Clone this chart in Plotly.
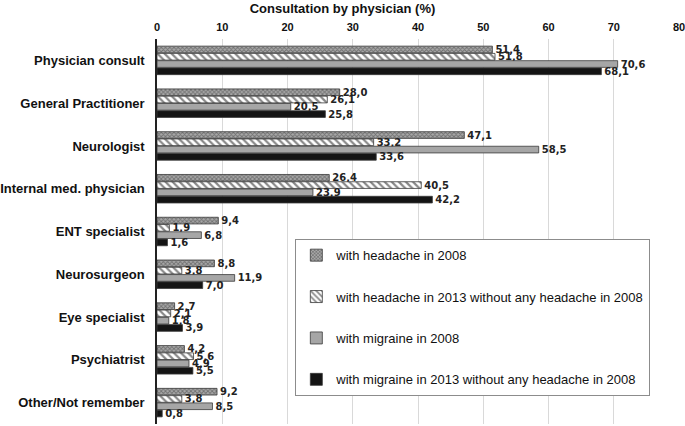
import plotly.graph_objects as go

categories = ["Physician consult", "General Practitioner", "Neurologist",
              "Internal med. physician", "ENT specialist", "Neurosurgeon",
              "Eye specialist", "Psychiatrist", "Other/Not remember"]
series_names = ["with headache in 2008",
                "with headache in 2013 without any headache in 2008",
                "with migraine in 2008",
                "with migraine in 2013 without any headache in 2008"]
headache_2008 = [51.4, 28.0, 47.1, 26.4, 9.4, 8.8, 2.7, 4.2, 9.2]
headache_2013 = [51.8, 26.1, 33.2, 40.5, 1.9, 3.8, 2.1, 5.6, 3.8]
migraine_2008 = [70.6, 20.5, 58.5, 23.9, 6.8, 11.9, 1.8, 4.9, 8.5]
migraine_2013 = [68.1, 25.8, 33.6, 42.2, 1.6, 7.0, 3.9, 5.5, 0.8]
x_ticks = [0, 10, 20, 30, 40, 50, 60, 70, 80]

series_values = [headache_2008, headache_2013, migraine_2008, migraine_2013]
styles = [
    dict(color="#a8a8a8", pattern=dict(shape="x", size=3, solidity=0.5, fgcolor="#3a3a3a", bgcolor="#a8a8a8")),
    dict(color="#ffffff", pattern=dict(shape="\\", size=5, solidity=0.45, fgcolor="#111111", bgcolor="#ffffff")),
    dict(color="#a6a6a6"),
    dict(color="#141414"),
]

fig = go.Figure()
for i, (name, vals, st) in enumerate(zip(series_names, series_values, styles)):
    marker = dict(line=dict(color="#3a3a3a", width=0.8), **st)
    fig.add_trace(go.Bar(
        y=categories, x=vals, orientation="h", name=name,
        legendgroup=f"g{i}",
        marker=marker,
        text=[f"{v:.1f}".replace(".", ",") for v in vals],
        textposition="outside", constraintext="none", cliponaxis=False,
        textfont=dict(family="DejaVu Sans", size=10, color="#222222", weight="bold"),
    ))

fig.update_layout(
    width=685, height=426,
    barmode="group", bargap=0.32, bargroupgap=0.08,
    paper_bgcolor="white", plot_bgcolor="white",
    margin=dict(l=157, r=6, t=39, b=2, autoexpand=False),
    title=dict(text="<b>Consultation by physician (%)</b>", x=0.5, xref="container", xanchor="center",
               y=0.99, yanchor="top",
               font=dict(family="Liberation Sans", size=13, color="#111111")),
    xaxis=dict(side="top", range=[0, 80], tickvals=x_ticks, showgrid=True, automargin=False,
               ticklabeloverflow="allow", ticklabelstandoff=5,
               gridcolor="#d9d9d9", gridwidth=1, zeroline=False, showline=False,
               ticks="", tickfont=dict(family="Liberation Sans", size=11, color="#111111", weight="bold")),
    yaxis=dict(autorange="reversed", showline=True, linecolor="#222222", linewidth=1.5,
               ticks="", ticklabelstandoff=8, automargin=False,
               tickfont=dict(family="Liberation Sans", size=13, color="#111111", weight="bold")),
    legend=dict(x=0.265, y=0.48, xanchor="left", yanchor="top",
                bgcolor="white", bordercolor="#8c8c8c", borderwidth=1,
                tracegroupgap=21.5, itemwidth=30,
                font=dict(family="Liberation Sans", size=13, color="#111111")),
    font=dict(family="Liberation Sans"),
)

fig.write_html("out.html", config={"displayModeBar": False},
               post_script="document.body.style.margin='0';")
